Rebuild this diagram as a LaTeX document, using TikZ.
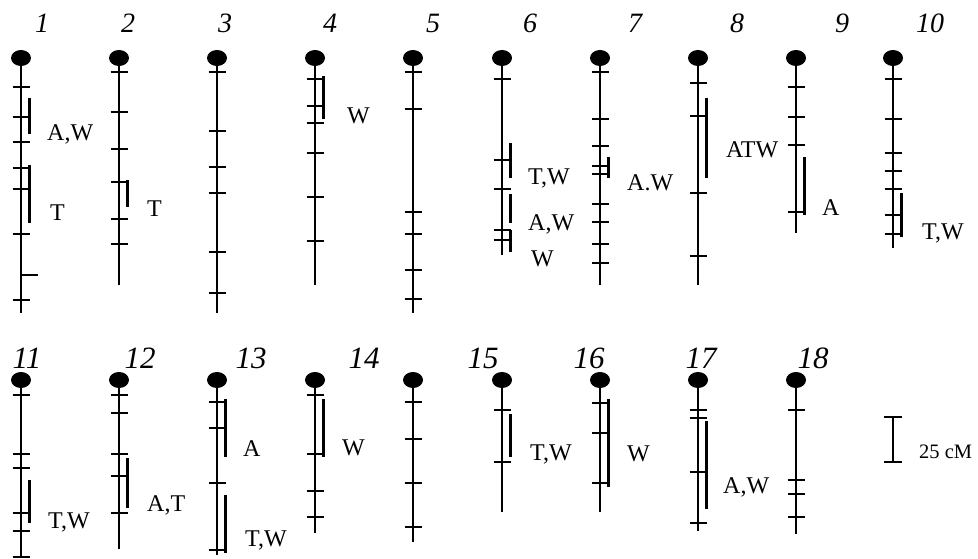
\documentclass[tikz,border=0pt]{standalone}
\usepackage{fontspec}
\setmainfont{Liberation Serif}
\usetikzlibrary{shapes.geometric}
\newcommand\chromo[5]{%
  \draw[chrline] (#2,#3) -- (#2,#4);
  \foreach \t in {#5} {\draw[tickl] (#2-8.5,\t) -- (#2+8.5,\t);}
  \node[centro] (#1) at (#2,#3) {};
}
\newcommand\qbar[3]{\draw[qtl] (#1+8.5,#2) -- (#1+8.5,#3);}
\begin{document}
\begin{tikzpicture}[x=1pt,y=-1pt,
  chrline/.style={line width=2.5pt},
  tickl/.style={line width=2.2pt},
  qtl/.style={line width=3pt},
  centro/.style={ellipse,fill=black,draw=none,minimum width=20pt,minimum height=16pt,inner sep=0pt},
  lab/.style={inner sep=0pt,anchor=base west,font=\fontsize{24}{26}\selectfont},
  numt/.style={inner sep=0pt,anchor=base,font=\fontsize{28}{30}\selectfont\itshape},
  numb/.style={inner sep=0pt,anchor=base,font=\fontsize{31}{33}\selectfont\itshape}]
\useasboundingbox (0,0) rectangle (978,559);
% ---------- top row ----------
\chromo{c1}{21}{58}{313}{87,117,142,168,189,234,300}
\draw[tickl] (21,275) -- (38,275);
\qbar{21}{98}{134}\qbar{21}{165}{223}
\node[lab] (l1a) at (47,141) {A,W};
\node[lab] (l1b) at (50,221) {T};
\chromo{c2}{119}{58}{285}{72,112,149,182,219,244}
\qbar{119}{180}{207}
\node[lab] (l2a) at (147,216) {T};
\chromo{c3}{217}{58}{313}{72,131,167,193,252,293}
\chromo{c4}{315}{58}{285}{79,106,123,153,197,241}
\qbar{315}{76}{119}
\node[lab] (l4a) at (347,124) {W};
\chromo{c5}{413}{58}{313}{72,109,212,234,270,299}
\chromo{c6}{502}{58}{255}{79,160,189,230,240}
\qbar{502}{143}{178}\qbar{502}{194}{223}\qbar{502}{230}{252}
\node[lab] (l6a) at (528,185) {T,W};
\node[lab] (l6b) at (528,230) {A,W};
\node[lab] (l6c) at (531,266) {W};
\chromo{c7}{600}{58}{285}{72,119,146,166,174,204,222,244,263}
\qbar{600}{157}{178}
\node[lab] (l7a) at (627,190) {A.W};
\chromo{c8}{698}{58}{285}{83,116,193,256}
\qbar{698}{98}{178}
\node[lab] (l8a) at (726,158) {ATW};
\chromo{c9}{796}{58}{233}{87,117,145,212}
\qbar{796}{157}{215}
\node[lab] (l9a) at (822,215) {A};
\chromo{c10}{893}{58}{248}{79,119,153,171,189,215,234}
\qbar{893}{193}{237}
\node[lab] (l10a) at (922,240) {T,W};
\foreach \n/\cx in {1/42,2/128,3/225,4/330,5/433,6/530,7/635,8/737,9/842,10/930}
  \node[numt] (n\n) at (\cx,33) {\n};
% ---------- bottom row ----------
\chromo{c11}{21}{380}{557}{395,454,468,513,531,557}
\qbar{21}{480}{523}
\node[lab] (l11a) at (48,528) {T,W};
\chromo{c12}{119}{380}{549}{395,413,454,476,513}
\qbar{119}{458}{508}
\node[lab] (l12a) at (147,511) {A,T};
\chromo{c13}{217}{380}{555}{402,428,483,550}
\qbar{217}{399}{457}\qbar{217}{495}{553}
\node[lab] (l13a) at (243,456) {A};
\node[lab] (l13b) at (245,546) {T,W};
\chromo{c14}{315}{380}{533}{395,454,491,517}
\qbar{315}{399}{457}
\node[lab] (l14a) at (342,455) {W};
\chromo{c15}{413}{380}{542}{402,439,483,527}
\chromo{c16}{502}{380}{512}{410,462}
\qbar{502}{414}{457}
\node[lab] (l16a) at (530,460) {T,W};
\chromo{c17}{600}{380}{512}{403,433,483}
\qbar{600}{399}{487}
\node[lab] (l17a) at (627,461) {W};
\chromo{c18}{698}{380}{531}{410,418,472,523}
\qbar{698}{421}{509}
\node[lab] (l18a) at (723,493) {A,W};
\chromo{c19}{796}{380}{534}{410,480,494,517}
\foreach \n/\cx in {11/27,12/140,13/251,14/364,15/483,16/589,17/701,18/813}
  \node[numb] (n\n) at (\cx,368) {\n};
% ---------- scale ----------
\coordinate (st) at (893,417);
\coordinate (sb) at (893,462);
\draw[line width=2.2pt] (st) -- (sb);
\draw[line width=2.2pt] ([xshift=-9pt]st) -- ([xshift=9pt]st);
\draw[line width=2.2pt] ([xshift=-9pt]sb) -- ([xshift=9pt]sb);
\node[inner sep=0pt,anchor=base west,font=\fontsize{20.5}{22}\selectfont] (sc) at (919,458) {25 cM};
\end{tikzpicture}
\end{document}
